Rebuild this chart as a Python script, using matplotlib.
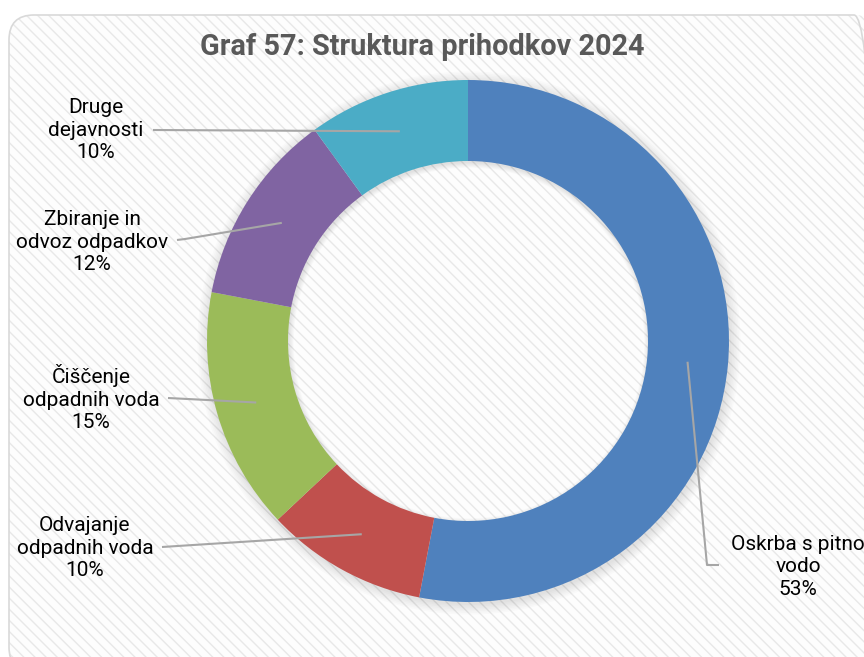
import matplotlib
matplotlib.use('Agg')
import matplotlib.pyplot as plt
from matplotlib.patches import FancyBboxPatch, Wedge, Rectangle
import numpy as np

labels = ['Oskrba s pitno\nvodo', 'Odvajanje\nodpadnih voda', 'Čiščenje\nodpadnih voda',
          'Zbiranje in\nodvoz odpadkov', 'Druge\ndejavnosti']
shares = [53, 10, 15, 12, 10]
colors = ['#4F81BD', '#C0504D', '#9BBB59', '#8064A2', '#4BACC6']
title = 'Graf 57: Struktura prihodkov 2024'

plt.rcParams['font.family'] = ['Roboto', 'DejaVu Sans']

W, H = 864, 657
fig = plt.figure(figsize=(W / 100, H / 100), dpi=100)
ax = fig.add_axes([0, 0, 1, 1])

def Y(y):
    return H - y

cx, cy = 468, Y(341)
R, ring = 261, 81

wedges, _ = ax.pie(shares, colors=colors, radius=R, center=(cx, cy), startangle=90,
                   counterclock=False, frame=True,
                   wedgeprops=dict(width=ring, edgecolor='none'))
for w in wedges:
    w.set_zorder(3)
ax.set_xlim(0, W)
ax.set_ylim(0, H)
ax.set_aspect('equal')
ax.axis('off')

# chart area: rounded box with light diagonal stripes
ax.add_patch(Rectangle((0, 0), W, H, facecolor='white', edgecolor='none', zorder=0))
plt.rcParams['hatch.linewidth'] = 1.0
ax.add_patch(FancyBboxPatch((9 + 25, Y(672) + 25), 870 - 50, 657 - 50,
                            boxstyle='round,pad=25', facecolor='#fdfdfd',
                            edgecolor='#e8e8e8', linewidth=0, hatch='\\' * 3, zorder=1))
ax.add_patch(FancyBboxPatch((9 + 25, Y(672) + 25), 870 - 50, 657 - 50,
                            boxstyle='round,pad=25', facecolor='none',
                            edgecolor='#d9d9d9', linewidth=1.2, zorder=2))

# soft shadow under the ring
for k in range(7):
    ax.add_patch(Wedge((cx + 1, cy - 2), R + 1 + k * 1.6, 0, 360, width=ring + 1 + k * 2.4,
                       facecolor='#000000', edgecolor='none', alpha=0.014, zorder=2))

# label centre, and leader start / elbow points
label_pos = [(798, 567), (85, 548), (91, 398), (92, 242), (96, 130)]
leaders = [[(719, 565), (707, 565)],
           [(162, 547)],
           [(168, 398)],
           [(177, 240), (185, 239)],
           [(153, 130)]]

for w, lab, val, (lx, ly), pts in zip(wedges, labels, shares, label_pos, leaders):
    ax.text(lx, Y(ly), f'{lab}\n{val}%', ha='center', va='center', multialignment='center',
            fontsize=15, color='#000000', linespacing=1.25, zorder=5)
    ang = np.deg2rad((w.theta1 + w.theta2) / 2)
    r = R - ring / 2
    ex, ey = cx + r * np.cos(ang), cy + r * np.sin(ang)
    xs = [p[0] for p in pts] + [ex]
    ys = [Y(p[1]) for p in pts] + [ey]
    ax.plot(xs, ys, color='#a6a6a6', linewidth=1.5, zorder=4, solid_capstyle='butt')

ax.text(422, Y(47), title, ha='center', va='center', fontsize=20.8, fontweight='bold',
        color='#595959', zorder=5)

fig.savefig('out.png', dpi=100)
